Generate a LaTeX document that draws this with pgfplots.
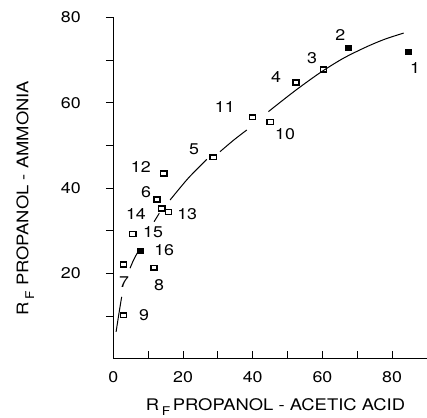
\documentclass[border=0pt]{standalone}
\usepackage{fontspec}
\setmainfont{TeX Gyre Heros}[FakeStretch=1.15]
\usepackage{pgfplots}
\usepackage{pgfplotstable}
\pgfplotsset{compat=1.18}
\pgfplotstableread{
x y
0.8 6.3
1.6 10.5
2.4 14.5
}\segA
\pgfplotstableread{
x y
4.8 21.2
5.8 23.1
6.9 24.8
}\segB
\pgfplotstableread{
x y
11.7 32.1
13.2 34.1
}\segC
\pgfplotstableread{
x y
16.3 37.2
21.5 42.3
26.8 46.7
}\segD
\pgfplotstableread{
x y
30.6 48.5
34.5 51.2
38.3 53.6
}\segE
\pgfplotstableread{
x y
44.5 57.9
52.0 62.7
59.3 67.0
66.0 70.4
72.7 73.1
78.0 74.9
83.3 76.3
}\segF
\pgfplotstableread{
x y
60.3 67.8
52.4 64.7
28.7 47.2
12.5 37.3
2.9 22.1
11.7 21.3
2.9 10.2
45.0 55.5
39.9 56.6
14.5 43.4
15.8 34.4
13.9 35.2
5.6 29.2
}\openpts
\pgfplotstableread{
x y
84.7 71.8
67.5 72.9
7.8 25.2
}\filledpts
\pgfplotstableread{
x y l
86.6 68.1 1
65.1 75.9 2
57.0 70.5 3
46.7 66.0 4
23.2 49.1 5
9.4 39.1 6
3.1 17.9 7
13.1 17.3 8
8.8 10.2 9
49.3 52.7 10
32.0 59.0 11
7.9 44.9 12
21.2 33.9 13
6.5 33.9 14
11.4 29.7 15
14.6 25.5 16
}\labels
\begin{document}
\begin{tikzpicture}
\begin{axis}[name=ax, scale only axis, width=313.7pt, height=341.4pt,
  xmin=0, xmax=90, ymin=0, ymax=80,
  axis x line*=bottom, axis y line*=left,
  axis line style={line width=1pt},
  xtick={0,10,...,80}, xticklabels={0,,20,,40,,60,,80},
  ytick={10,20,...,80}, yticklabels={,20,,40,,60,,80},
  tick align=inside, major tick length=7.5pt,
  tick style={line width=0.9pt, black},
  y tick style={xshift=-7.5pt},
  /pgf/number format/assume math mode=true,
  ticklabel style={font=\fontsize{15.5}{15.5}\selectfont},
  yticklabel style={xshift=-29pt},
  xticklabel style={yshift=-9pt},
  xlabel={R\,\raisebox{-0.55ex}{\fontsize{12}{12}\selectfont F}\,PROPANOL - ACETIC ACID},
  ylabel={R\,\raisebox{-0.7ex}{\fontsize{12}{12}\selectfont F}\,\,PROPANOL - AMMONIA},
  label style={font=\fontsize{16}{16}\selectfont},
  xlabel style={at={(axis description cs:0.517,-0.152)}, anchor=base},
  ylabel style={at={(axis description cs:-0.2805,0.47)}, anchor=center},
  clip=false,
]
\addplot[black, line width=1pt, smooth] table {\segA};
\addplot[black, line width=1pt, smooth] table {\segB};
\addplot[black, line width=1pt, smooth] table {\segC};
\addplot[black, line width=1pt, smooth] table {\segD};
\addplot[black, line width=1pt, smooth] table {\segE};
\addplot[black, line width=1pt, smooth] table {\segF};
\addplot[only marks, mark=square, mark size=2.4pt, mark options={black, fill=white, line width=1.5pt, xscale=1.3}] table {\openpts};
\addplot[only marks, mark=square*, mark size=2.6pt, mark options={black, fill=black, line width=1pt, xscale=1.3}] table {\filledpts};
\addplot[only marks, mark=none, nodes near coords, point meta=explicit symbolic,
  every node near coord/.append style={anchor=center, inner sep=0pt, font=\fontsize{15.5}{15.5}\selectfont}]
  table[meta=l] {\labels};
\end{axis}
\pgfresetboundingbox
\path ([xshift=-113.3pt,yshift=-58.3pt]ax.south west) rectangle ([yshift=17.3pt]ax.north east);
\end{tikzpicture}
\end{document}
